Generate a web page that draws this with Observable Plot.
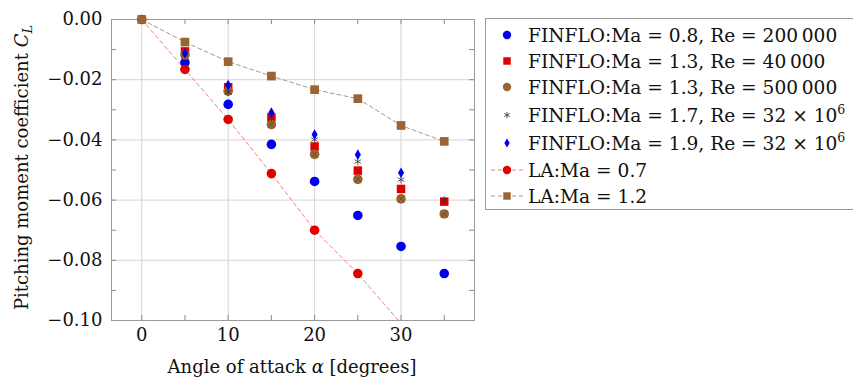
<!DOCTYPE html>
<html>
<head>
<meta charset="utf-8">
<script src="https://cdn.jsdelivr.net/npm/d3@7"></script>
<script src="https://cdn.jsdelivr.net/npm/@observablehq/plot@0.6"></script>
<style>
  html, body { margin: 0; padding: 0; background: #fff; overflow: hidden; }
  #wrap { position: relative; width: 853px; height: 382px; }
  #chart { position: absolute; left: 0; top: 0; }
  #legend { position: absolute; left: 0; top: 0; }
</style>
</head>
<body>
<div id="wrap"><div id="chart"></div><svg id="legend" width="853" height="382"></svg></div>
<script>
// ---- data ----
const alphaFinflo = [5, 10, 15, 20, 25, 30, 35];
const finfloMa08Re200k = [-0.0143, -0.0282, -0.0415, -0.0538, -0.0651, -0.0754, -0.0844];
const finfloMa13Re40k  = [-0.0106, -0.0225, -0.0325, -0.0422, -0.0502, -0.0563, -0.0605];
const finfloMa13Re500k = [-0.0118, -0.0238, -0.0349, -0.0448, -0.0531, -0.0596, -0.0646];
const finfloMa17Re32M  = [-0.0114, -0.0242, -0.0326, -0.0399, -0.0472, -0.0532, -0.0600];
const alphaMa19 = [5, 10, 15, 20, 25, 30];
const finfloMa19Re32M  = [-0.0112, -0.0218, -0.0309, -0.0382, -0.0449, -0.0509];
const alphaLA07 = [0, 5, 10, 15, 20, 25, 30];
const laMa07 = [0, -0.0166, -0.0332, -0.0512, -0.0700, -0.0844, -0.1010];
const alphaLA12 = [0, 5, 10, 15, 20, 25, 30, 35];
const laMa12 = [0, -0.0075, -0.0140, -0.0188, -0.0233, -0.0263, -0.0352, -0.0405];

const xMajor = [0, 10, 20, 30];
const xMinor = [5, 15, 25, 35];
const yMajor = [-0.1, -0.08, -0.06, -0.04, -0.02, 0];
const yMinor = [-0.09, -0.07, -0.05, -0.03, -0.01];

const legendLabels = [
  "FINFLO:Ma = 0.8, Re = 200\u2009000",
  "FINFLO:Ma = 1.3, Re = 40\u2009000",
  "FINFLO:Ma = 1.3, Re = 500\u2009000",
  "FINFLO:Ma = 1.7, Re = 32 \u00d7 10",
  "FINFLO:Ma = 1.9, Re = 32 \u00d7 10",
  "LA:Ma = 0.7",
  "LA:Ma = 1.2"
];

const zip = (xs, ys) => xs.map((x, i) => ({x, y: ys[i]}));

const FONT = "'DejaVu Serif', 'Liberation Serif', serif";
const FS = "18px";
const BLUE = "#0000ee", RED = "#e00000", BROWN = "#9a6532", BROWN_D = "#6b4420";
const RED_LINE = "#ff6a6a", BROWN_LINE = "#a38b72";
const GRID = "#d4d4d4", TICK = "#8a8a8a";

const W = 480, H = 382, ML = 111, MR = 6, MT = 19, MB = 62;
const PW = W - ML - MR, PH = H - MT - MB;

const plot = Plot.plot({
  width: W, height: H,
  marginLeft: ML, marginRight: MR, marginTop: MT, marginBottom: MB,
  style: {fontFamily: FONT, fontSize: FS, color: "#111", background: "transparent"},
  x: {domain: [-3.5, 38.5]},
  y: {domain: [-0.1, 0]},
  marks: [
    Plot.gridX(xMajor, {stroke: GRID, strokeOpacity: 1}),
    Plot.gridY(yMajor, {stroke: GRID, strokeOpacity: 1}),
    // ticks (inside, on all four sides)
    Plot.tickX(xMinor.concat(xMajor), {x: d => d, stroke: TICK, insetTop: PH - 5}),
    Plot.tickX(xMinor.concat(xMajor), {x: d => d, stroke: TICK, insetBottom: PH - 5}),
    Plot.tickY(yMinor.concat(yMajor), {y: d => d, stroke: TICK, insetRight: PW - 5}),
    Plot.tickY(yMinor.concat(yMajor), {y: d => d, stroke: TICK, insetLeft: PW - 5}),
    Plot.frame({stroke: "#9a9a9a"}),
    Plot.axisX(xMajor, {tickSize: 0, tickPadding: 8, label: null}),
    Plot.axisY(yMajor, {tickSize: 0, tickPadding: 9, label: null, tickFormat: d3.format(".2f")}),
    // LA lines
    Plot.line(zip(alphaLA07, laMa07), {x: "x", y: "y", stroke: RED_LINE, strokeWidth: 0.9, strokeDasharray: "4,3", clip: "frame"}),
    Plot.line(zip(alphaLA12, laMa12), {x: "x", y: "y", stroke: BROWN_LINE, strokeWidth: 0.9, strokeDasharray: "4,3", clip: "frame"}),
    // FINFLO
    Plot.dot(zip(alphaFinflo, finfloMa08Re200k), {x: "x", y: "y", r: 4.8, fill: BLUE, symbol: "circle"}),
    Plot.dot(zip(alphaFinflo, finfloMa13Re40k), {x: "x", y: "y", r: 4.8, fill: RED, symbol: "square"}),
    Plot.dot(zip(alphaFinflo, finfloMa13Re500k), {x: "x", y: "y", r: 4.8, fill: BROWN, symbol: "circle"}),
    Plot.dot(zip(alphaFinflo, finfloMa13Re500k), {x: "x", y: "y", r: 3.2, stroke: BROWN_D, strokeWidth: 0.8, symbol: "times"}),
    Plot.dot(zip(alphaFinflo, finfloMa17Re32M), {x: "x", y: "y", r: 3.6, stroke: "#333", strokeWidth: 0.8, symbol: "asterisk"}),
    Plot.dot(zip(alphaMa19, finfloMa19Re32M), {x: "x", y: "y", r: 3.2, fill: BLUE, symbol: "diamond"}),
    // LA markers (points outside the y range are not drawn)
    Plot.dot(zip(alphaLA07, laMa07), {x: "x", y: "y", r: 4.8, fill: RED, symbol: "circle", filter: d => d.y >= -0.1}),
    Plot.dot(zip(alphaLA12, laMa12), {x: "x", y: "y", r: 4.9, fill: BROWN, symbol: "square"})
  ]
});
document.getElementById("chart").appendChild(plot);

// axis labels with math styling
const svg = d3.select(plot);
const yl = svg.append("text")
  .attr("transform", `translate(28, ${MT + PH / 2 - 2}) rotate(-90)`)
  .attr("text-anchor", "middle")
  .style("font-family", FONT).style("font-size", FS).attr("fill", "#111");
yl.append("tspan").text("Pitching moment coefficient ");
yl.append("tspan").attr("font-style", "italic").text("C");
yl.append("tspan").attr("font-style", "italic").attr("font-size", "13px").attr("dy", "4").text("L");

const xl = svg.append("text")
  .attr("x", 292).attr("y", 373)
  .attr("text-anchor", "middle")
  .style("font-family", FONT).style("font-size", FS).attr("fill", "#111");
xl.append("tspan").text("Angle of attack ");
xl.append("tspan").attr("font-style", "italic").text("\u03b1");
xl.append("tspan").text(" [degrees]");

// ---- legend ----
const lg = d3.select("#legend");
lg.append("rect").attr("x", 485.5).attr("y", 18.5).attr("width", 420).attr("height", 191)
  .attr("fill", "#fff").attr("stroke", "#9a9a9a");
const rowsY = [35, 61, 87, 115, 143, 170, 196];
const mx = 507, tx = 528;
const sym = (type, r) => d3.symbol(type, r * r * Math.PI)();
const g = lg.append("g");
function mk(i, type, r, attrs) {
  const p = g.append("path").attr("d", sym(type, r)).attr("transform", `translate(${mx},${rowsY[i]})`);
  for (const k in attrs) p.attr(k, attrs[k]);
}
g.append("circle").attr("cx", mx).attr("cy", rowsY[0]).attr("r", 4.2).attr("fill", BLUE);
mk(1, d3.symbolSquare, 4.2, {fill: RED});
g.append("circle").attr("cx", mx).attr("cy", rowsY[2]).attr("r", 4.2).attr("fill", BROWN);
mk(3, d3.symbolAsterisk, 3, {fill: "none", stroke: "#333", "stroke-width": 0.8});
mk(4, d3.symbolDiamond, 2.8, {fill: BLUE});
g.append("line").attr("x1", 491).attr("x2", 523).attr("y1", rowsY[5]).attr("y2", rowsY[5])
  .attr("stroke", RED_LINE).attr("stroke-dasharray", "4,3").attr("stroke-width", 0.9);
g.append("circle").attr("cx", mx).attr("cy", rowsY[5]).attr("r", 4.2).attr("fill", RED);
g.append("line").attr("x1", 491).attr("x2", 523).attr("y1", rowsY[6]).attr("y2", rowsY[6])
  .attr("stroke", BROWN_LINE).attr("stroke-dasharray", "4,3").attr("stroke-width", 0.9);
mk(6, d3.symbolSquare, 4.2, {fill: BROWN});

legendLabels.forEach((lab, i) => {
  const t = g.append("text").attr("x", tx).attr("y", rowsY[i]).attr("dy", "0.35em")
    .style("font-family", FONT).style("font-size", "18.6px").attr("fill", "#111");
  t.append("tspan").text(lab);
  if (i === 3 || i === 4) {
    t.append("tspan").attr("font-size", "12.5px").attr("dy", "-8").text("6");
  }
});
</script>
</body>
</html>
